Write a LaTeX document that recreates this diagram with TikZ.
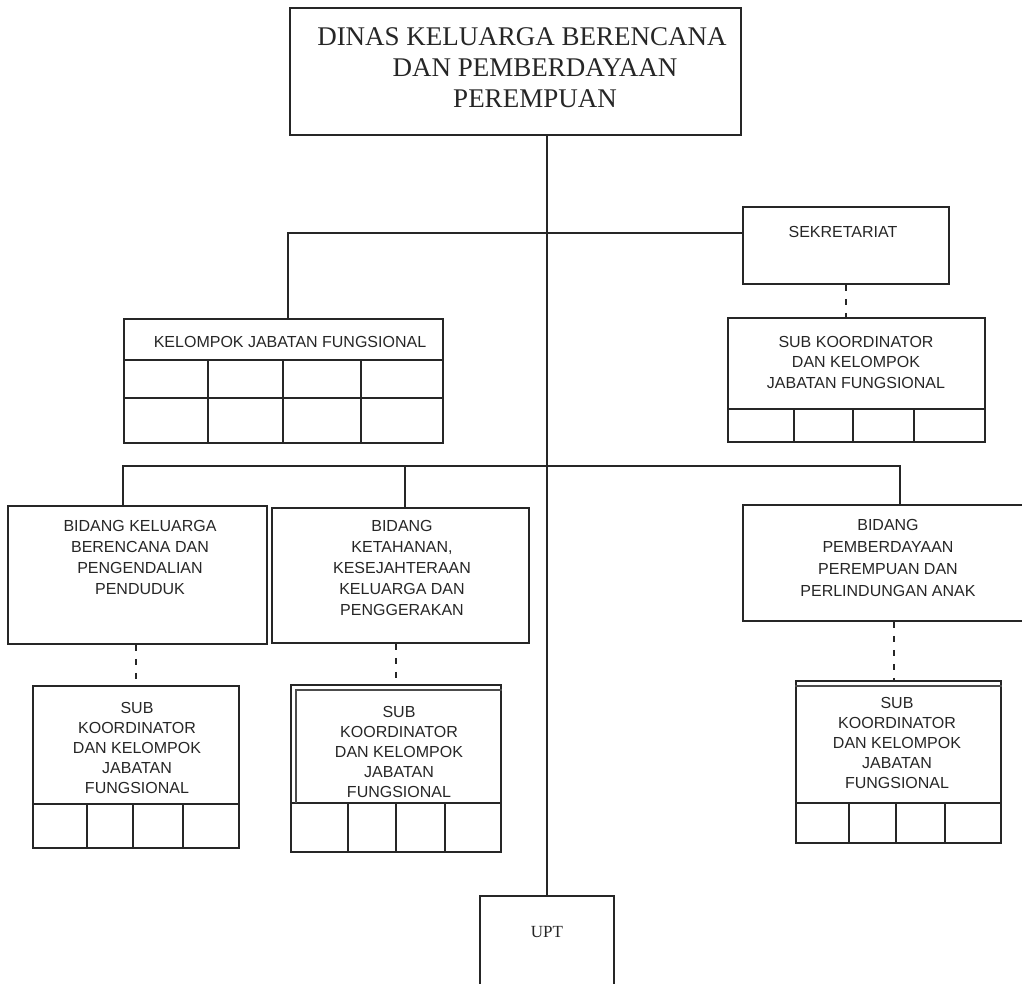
\documentclass[tikz,border=0pt]{standalone}
\usepackage{fontspec}
\newfontfamily\sansf{Liberation Sans}
\newfontfamily\seriff{Liberation Serif}
\tikzset{
  ln/.style={line width=1.8pt, draw=black!85},
  thin/.style={line width=1.1pt, draw=black!70},
  box/.style={draw=black!85, line width=1.8pt, rectangle, inner sep=0pt},
  dsh/.style={line width=1.8pt, draw=black!85, dash pattern=on 6pt off 8pt},
  stxt/.style={font=\sansf\fontsize{16}{20.5}\selectfont, align=center, text=black!85, inner sep=0pt},
  rtxt/.style={align=center, text=black!85, inner sep=0pt},
}
\begin{document}
\begin{tikzpicture}[x=1pt,y=-1pt]
\useasboundingbox (0,0) rectangle (1022,983);
\clip (0,0) rectangle (1022,983);

% boxes
\node[box, minimum width=451pt, minimum height=127pt] (dinas) at (515.5,71.5) {};
\node[box, minimum width=206pt, minimum height=77pt] (sekr) at (846,245.5) {};
\node[box, minimum width=319pt, minimum height=124pt] (kjf) at (283.5,381) {};
\node[box, minimum width=257pt, minimum height=124pt] (subr) at (856.5,380) {};
\node[box, minimum width=259pt, minimum height=138pt] (bkb) at (137.5,575) {};
\node[box, minimum width=257pt, minimum height=135pt] (bkk) at (400.5,575.5) {};
\node[box, minimum width=287pt, minimum height=116pt] (pppa) at (886.5,563) {};
\node[box, minimum width=206pt, minimum height=162pt] (subbkb) at (136,767) {};
\node[box, minimum width=210pt, minimum height=167pt] (subbkk) at (396,768.5) {};
\node[box, minimum width=205pt, minimum height=162pt] (subpppa) at (898.5,762) {};
\node[box, minimum width=134pt, minimum height=104pt] (upt) at (547,948) {};

% texts
\node[rtxt, font=\seriff\fontsize{27}{31}\selectfont] (dinast) at (535,68)
  {\hspace*{-26pt}DINAS KELUARGA BERENCANA\\DAN PEMBERDAYAAN\\PEREMPUAN};
\node[stxt] (sekrt) at (843,232) {SEKRETARIAT};
\node[stxt] (kjft) at (290,342) {KELOMPOK JABATAN FUNGSIONAL};
\node[stxt] (subrt) at (856,362) {SUB KOORDINATOR\\DAN KELOMPOK\\JABATAN FUNGSIONAL};
\node[stxt, font=\sansf\fontsize{16}{21}\selectfont] (bkbt) at (140,557) {BIDANG KELUARGA\\BERENCANA DAN\\PENGENDALIAN\\PENDUDUK};
\node[stxt, font=\sansf\fontsize{16}{21}\selectfont] (bkkt) at (402,568) {BIDANG\\KETAHANAN,\\KESEJAHTERAAN\\KELUARGA DAN\\PENGGERAKAN};
\node[stxt, font=\sansf\fontsize{16}{22}\selectfont] (pppat) at (888,558) {BIDANG\\PEMBERDAYAAN\\PEREMPUAN DAN\\PERLINDUNGAN ANAK};
\node[stxt, font=\sansf\fontsize{16}{19.8}\selectfont] (subbkbt) at (137,748) {SUB\\KOORDINATOR\\DAN KELOMPOK\\JABATAN\\FUNGSIONAL};
\node[stxt, font=\sansf\fontsize{16}{19.8}\selectfont] (subbkkt) at (399,752) {SUB\\KOORDINATOR\\DAN KELOMPOK\\JABATAN\\FUNGSIONAL};
\node[stxt, font=\sansf\fontsize{16}{19.8}\selectfont] (subpppat) at (897,743) {SUB\\KOORDINATOR\\DAN KELOMPOK\\JABATAN\\FUNGSIONAL};
\node[rtxt, font=\seriff\fontsize{17}{20}\selectfont] (uptt) at (547,932) {UPT};

% grid inside KJF
\draw[ln] (kjf.west |- 0,360) -- (kjf.east |- 0,360);
\draw[ln] (kjf.west |- 0,398) -- (kjf.east |- 0,398);
\foreach \x in {208,283,361} \draw[ln] (\x,360) -- (kjf.south -| \x,0);
% grid inside SUB right
\draw[ln] (subr.west |- 0,409) -- (subr.east |- 0,409);
\foreach \x in {794,853,914} \draw[ln] (\x,409) -- (subr.south -| \x,0);
% grid inside SUB BKB
\draw[ln] (subbkb.west |- 0,804) -- (subbkb.east |- 0,804);
\foreach \x in {87,133,183} \draw[ln] (\x,804) -- (subbkb.south -| \x,0);
% grid inside SUB BKK
\draw[ln] (subbkk.west |- 0,803) -- (subbkk.east |- 0,803);
\foreach \x in {348,396,445} \draw[ln] (\x,803) -- (subbkk.south -| \x,0);
\draw[thin] (296,803) -- (296,690) -- (subbkk.east |- 0,690);
% grid inside SUB PPPA
\draw[ln] (subpppa.west |- 0,803) -- (subpppa.east |- 0,803);
\foreach \x in {849,896,945} \draw[ln] (\x,803) -- (subpppa.south -| \x,0);
\draw[thin] (subpppa.west |- 0,686) -- (subpppa.east |- 0,686);

% connectors
\draw[ln] (dinas.south -| upt.north) -- (upt.north);
\coordinate (h1) at (288,233);
\draw[ln] (kjf.north -| h1) -- (h1) -- (h1 -| sekr.west);
\draw[dsh] (sekr.south) -- (sekr.south |- subr.north);
\coordinate (h2l) at (123,466);
\coordinate (h2m) at (405,466);
\coordinate (h2r) at (900,466);
\draw[ln] (bkb.north -| h2l) -- (h2l) -- (h2r) -- (h2r |- pppa.north);
\draw[ln] (h2m) -- (h2m |- bkk.north);
\draw[dsh] (bkb.south -| subbkb.north) -- (subbkb.north);
\draw[dsh] (bkk.south -| subbkk.north) -- (subbkk.north);
\coordinate (dp) at (894,0);
\draw[dsh] (pppa.south -| dp) -- (subpppa.north -| dp);
\end{tikzpicture}
\end{document}
